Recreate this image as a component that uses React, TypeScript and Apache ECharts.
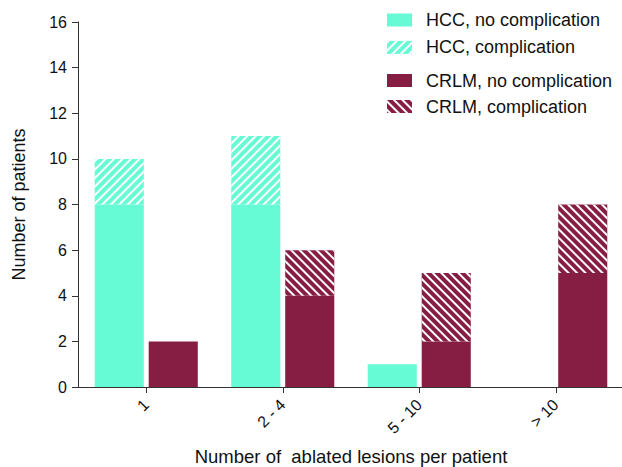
import React, { useEffect, useRef } from "react";
import * as echarts from "echarts";

const categories = ["1", "2 - 4", "5 - 10", "> 10"];
const hccNoComp = [8, 8, 1, 0];
const hccComp = [2, 3, 0, 0];
const crlmNoComp = [2, 4, 2, 5];
const crlmComp = [0, 2, 3, 3];
const yTicks = { min: 0, max: 16, interval: 2 };

const HCC = "#66FAD5";
const CRLM = "#861D42";
const FONT = "'Liberation Sans', Arial, Helvetica, sans-serif";
const TXT = "#111";

const hatch = (rot: number) => ({
  symbol: "rect",
  symbolSize: 1,
  dashArrayX: [1, 0],
  dashArrayY: [2, 4],
  rotation: rot,
  color: "#ffffff",
});

export default function App() {
  const ref = useRef<HTMLDivElement>(null);
  useEffect(() => {
    if (!ref.current) return;
    const chart = echarts.init(ref.current, null, { renderer: "svg" });
    const barCommon = {
      type: "bar" as const,
      barGap: "10%",
      barCategoryGap: "24.5%",
    };
    const legendCommon = {
      orient: "vertical" as const,
      left: 387,
      padding: 0,
      icon: "rect",
      itemWidth: 25,
      itemHeight: 13,
      textStyle: {
        fontFamily: FONT,
        fontSize: 18,
        color: TXT,
        lineHeight: 13,
        padding: [0, 0, 0, 9],
      },
    };
    chart.setOption({
      animation: false,
      textStyle: { fontFamily: FONT },
      legend: [
        {
          ...legendCommon,
          top: 11,
          itemGap: 9.4,
          data: ["HCC, no complication", "HCC, complication"],
        },
        {
          ...legendCommon,
          top: 71.5,
          itemGap: 8,
          data: ["CRLM, no complication", "CRLM, complication"],
        },
      ],
      grid: {
        left: 78,
        top: 22,
        width: 546,
        bottom: 80,
        containLabel: false,
        outerBoundsMode: "none",
      },
      xAxis: {
        type: "category",
        data: categories,
        name: "Number of  ablated lesions per patient",
        nameLocation: "middle",
        nameGap: 60,
        nameTextStyle: { fontFamily: FONT, fontSize: 18.5, color: TXT },
        axisLine: { show: true, lineStyle: { color: "#333", width: 1 } },
        axisTick: { show: true, alignWithLabel: true, length: 6, lineStyle: { color: "#333" } },
        axisLabel: {
          rotate: 45,
          fontFamily: FONT,
          fontSize: 16,
          color: TXT,
          margin: 15,
        },
        splitLine: { show: false },
      },
      yAxis: {
        type: "value",
        ...yTicks,
        name: "Number of patients",
        nameLocation: "middle",
        nameGap: 50,
        nameTextStyle: { fontFamily: FONT, fontSize: 18, color: TXT },
        axisLine: { show: true, lineStyle: { color: "#333", width: 1 } },
        axisTick: { show: true, length: 6, lineStyle: { color: "#333" } },
        axisLabel: { fontFamily: FONT, fontSize: 16, color: TXT, margin: 11 },
        splitLine: { show: false },
      },
      series: [
        {
          ...barCommon,
          name: "HCC, no complication",
          stack: "hcc",
          data: hccNoComp,
          itemStyle: { color: HCC },
        },
        {
          ...barCommon,
          name: "HCC, complication",
          stack: "hcc",
          data: hccComp,
          itemStyle: { color: HCC, decal: hatch(-Math.PI / 4) },
        },
        {
          ...barCommon,
          name: "CRLM, no complication",
          stack: "crlm",
          data: crlmNoComp,
          itemStyle: { color: CRLM },
        },
        {
          ...barCommon,
          name: "CRLM, complication",
          stack: "crlm",
          data: crlmComp,
          itemStyle: { color: CRLM, decal: hatch(Math.PI / 4) },
        },
      ],
    });
    return () => chart.dispose();
  }, []);
  return (
    <div
      ref={ref}
      style={{ position: "absolute", left: 0, top: 0, width: 622, height: 467 }}
    />
  );
}
